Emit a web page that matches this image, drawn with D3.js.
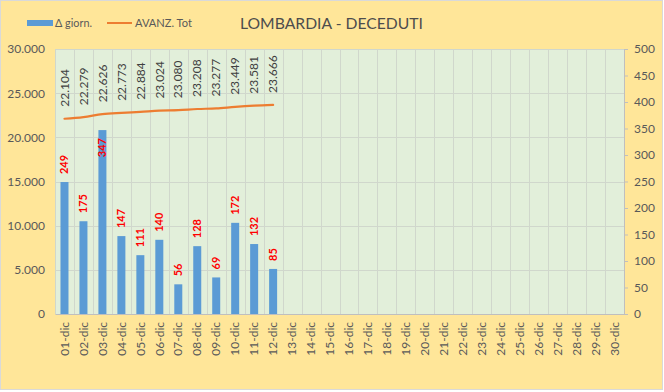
<!DOCTYPE html>
<html>
<head>
<meta charset="utf-8">
<script src="https://cdn.jsdelivr.net/npm/d3@7"></script>
<style>
  body { margin: 0; background: #fff; }
  text { font-family: Lato, "Open Sans", sans-serif; }
</style>
</head>
<body>
<div id="app"></div>
<script>
const days = d3.range(1, 31).map(d => String(d).padStart(2, "0") + "-dic");
const daily = [249, 175, 347, 147, 111, 140, 56, 128, 69, 172, 132, 85];
const total = [22104, 22279, 22626, 22773, 22884, 23024, 23080, 23208, 23277, 23449, 23581, 23666];
const leftTicks = [0, 5000, 10000, 15000, 20000, 25000, 30000];
const rightTicks = d3.range(0, 501, 50);

const width = 664, height = 392;
const plot = {left: 55, right: 624, top: 49, bottom: 314};

const fmt = d3.formatLocale({decimal: ",", thousands: ".", grouping: [3]}).format(",d");

const svg = d3.select("#app").append("svg")
    .attr("width", width)
    .attr("height", height);

// chart background
svg.append("rect")
    .attr("x", 0.5).attr("y", 0.5)
    .attr("width", 662).attr("height", 389)
    .attr("fill", "#FFE699")
    .attr("stroke", "#D9D9D9");

const x = d3.scaleBand().domain(days).range([plot.left, plot.right]);
const yL = d3.scaleLinear().domain([0, 30000]).range([plot.bottom, plot.top]);
const yR = d3.scaleLinear().domain([0, 500]).range([plot.bottom, plot.top]);

svg.append("rect")
    .attr("x", plot.left).attr("y", plot.top)
    .attr("width", plot.right - plot.left).attr("height", plot.bottom - plot.top)
    .attr("fill", "#E2EFDA");

// gridlines
svg.append("g").selectAll("line.h")
    .data(leftTicks.slice(1)).enter()
    .append("line")
    .attr("x1", plot.left).attr("x2", plot.right)
    .attr("y1", d => Math.round(yL(d)) + 0.5).attr("y2", d => Math.round(yL(d)) + 0.5)
    .attr("stroke", "#D0D7CC");

svg.append("g").selectAll("line.v")
    .data(days).enter()
    .append("line")
    .attr("x1", d => Math.round(x(d)) + 0.5).attr("x2", d => Math.round(x(d)) + 0.5)
    .attr("y1", plot.top).attr("y2", plot.bottom)
    .attr("stroke", "#D0D7CC");

// left axis
const gl = svg.append("g")
    .attr("transform", `translate(${plot.left}, 0)`)
    .call(d3.axisLeft(yL).tickValues(leftTicks).tickFormat(d => d === 0 ? "0" : fmt(d)).tickSize(0).tickPadding(10));
gl.select(".domain").remove();

// right axis
const gr = svg.append("g")
    .attr("transform", `translate(${plot.right}, 0)`)
    .call(d3.axisRight(yR).tickValues(rightTicks).tickSize(4).tickPadding(6));
gr.select(".domain").attr("stroke", "#BFBFBF");
gr.selectAll(".tick line").attr("stroke", "#BFBFBF");

// bottom axis
const gb = svg.append("g")
    .attr("transform", `translate(0, ${plot.bottom})`)
    .call(d3.axisBottom(x).tickSize(0).tickPadding(0));
gb.select(".domain").attr("stroke", "#BFBFBF");
gb.selectAll(".tick text")
    .attr("transform", "rotate(-90)")
    .attr("text-anchor", "end")
    .attr("x", -8)
    .attr("y", 0)
    .attr("dy", "0.35em");

svg.selectAll(".tick text")
    .attr("fill", "#595959")
    .style("font-size", "12px")
    .style("font-family", "Lato, 'Open Sans', sans-serif");

// bars
const barW = 8;
svg.append("g").selectAll("rect.bar")
    .data(daily).enter()
    .append("rect")
    .attr("x", (d, i) => x(days[i]) + x.bandwidth() / 2 - barW / 2)
    .attr("y", d => yR(d))
    .attr("width", barW)
    .attr("height", d => plot.bottom - yR(d))
    .attr("fill", "#5B9BD5");

// line
const line = d3.line()
    .x((d, i) => x(days[i]) + x.bandwidth() / 2)
    .y(d => yL(d))
    .curve(d3.curveMonotoneX);

svg.append("path")
    .datum(total)
    .attr("d", line)
    .attr("fill", "none")
    .attr("stroke", "#ED7D31")
    .attr("stroke-width", 2.2)
    .attr("stroke-linecap", "round");

// line labels
svg.append("g").selectAll("text")
    .data(total).enter()
    .append("text")
    .attr("transform", (d, i) => `translate(${x(days[i]) + x.bandwidth() / 2}, ${yL(d) - 12}) rotate(-90)`)
    .attr("dy", "0.35em")
    .attr("fill", "#404040")
    .style("font-size", "12px")
    .text(d => fmt(d));

// bar labels (inside the bar when they would hit the line)
const isInside = (d, i) => yR(d) - 28 < yL(total[i]) + 4;
svg.append("g").selectAll("text")
    .data(daily).enter()
    .append("text")
    .attr("transform", (d, i) => {
        const cx = x(days[i]) + x.bandwidth() / 2;
        return `translate(${cx}, ${isInside(d, i) ? yR(d) + 8 : yR(d) - 8}) rotate(-90)`;
    })
    .attr("text-anchor", (d, i) => isInside(d, i) ? "end" : "start")
    .attr("dy", "0.35em")
    .attr("fill", "#FF0000")
    .style("font-size", "11px")
    .style("font-weight", "bold")
    .text(d => d);

// legend
svg.append("rect")
    .attr("x", 27).attr("y", 20).attr("width", 26).attr("height", 6)
    .attr("fill", "#5B9BD5");
svg.append("text")
    .attr("x", 55).attr("y", 27)
    .attr("fill", "#595959").style("font-size", "12px")
    .attr("textLength", 37).attr("lengthAdjust", "spacingAndGlyphs")
    .text("Δ giorn.");
svg.append("line")
    .attr("x1", 107).attr("x2", 132).attr("y1", 23).attr("y2", 23)
    .attr("stroke", "#ED7D31").attr("stroke-width", 2);
svg.append("text")
    .attr("x", 135).attr("y", 27)
    .attr("fill", "#595959").style("font-size", "12px")
    .attr("textLength", 57).attr("lengthAdjust", "spacingAndGlyphs")
    .text("AVANZ. Tot");

// title
svg.append("text")
    .attr("x", 240).attr("y", 29)
    .attr("fill", "#4D4D4D")
    .style("font-size", "16px")
    .attr("textLength", 183).attr("lengthAdjust", "spacingAndGlyphs")
    .text("LOMBARDIA - DECEDUTI");
</script>
</body>
</html>
